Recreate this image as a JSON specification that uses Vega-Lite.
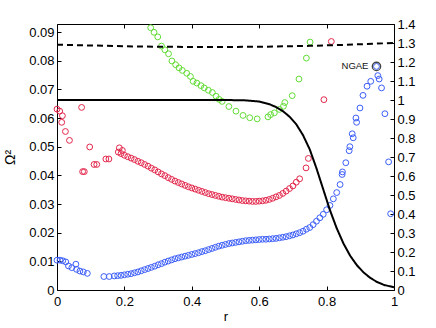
{
  "$schema": "https://vega.github.io/schema/vega-lite/v6.json",
  "autosize": "none",
  "width": 337,
  "height": 266,
  "padding": {"left": 57, "top": 24, "right": 42, "bottom": 38},
  "background": "white",
  "config": {
    "view": {"stroke": "#000", "strokeWidth": 1},
    "axis": {
      "grid": false, "domain": false, "labelOverlap": false, "labelFlush": false, "labelBound": false,
      "labelFont": "Liberation Sans", "labelFontSize": 13, "labelColor": "#000",
      "titleFont": "Liberation Sans", "titleFontSize": 13, "titleColor": "#000", "titleFontWeight": "normal",
      "tickColor": "#000", "tickSize": -4, "tickWidth": 1
    }
  },
  "datasets": {
    "pts": [
      {"s": "red", "r": 0.0, "w": 0.0631}, {"s": "red", "r": 0.008, "w": 0.0624}, {"s": "red", "r": 0.016, "w": 0.0608},
      {"s": "red", "r": 0.014, "w": 0.0585}, {"s": "red", "r": 0.025, "w": 0.0553}, {"s": "red", "r": 0.037, "w": 0.0522},
      {"s": "red", "r": 0.073, "w": 0.0637}, {"s": "red", "r": 0.076, "w": 0.0413}, {"s": "red", "r": 0.081, "w": 0.0413},
      {"s": "red", "r": 0.097, "w": 0.0499}, {"s": "red", "r": 0.110, "w": 0.0438}, {"s": "red", "r": 0.118, "w": 0.0438},
      {"s": "red", "r": 0.145, "w": 0.0457}, {"s": "red", "r": 0.154, "w": 0.0457},
      {"s": "red", "r": 0.182, "w": 0.0481}, {"s": "red", "r": 0.185, "w": 0.0496}, {"s": "red", "r": 0.194, "w": 0.0487},
      {"s": "red", "r": 0.19, "w": 0.0476}, {"s": "red", "r": 0.20, "w": 0.0470}, {"s": "red", "r": 0.21, "w": 0.0465},
      {"s": "red", "r": 0.22, "w": 0.0460}, {"s": "red", "r": 0.23, "w": 0.0455}, {"s": "red", "r": 0.24, "w": 0.0449},
      {"s": "red", "r": 0.25, "w": 0.0444}, {"s": "red", "r": 0.26, "w": 0.0438}, {"s": "red", "r": 0.27, "w": 0.0432},
      {"s": "red", "r": 0.28, "w": 0.0425}, {"s": "red", "r": 0.29, "w": 0.0419}, {"s": "red", "r": 0.30, "w": 0.0412},
      {"s": "red", "r": 0.31, "w": 0.0405}, {"s": "red", "r": 0.32, "w": 0.0399}, {"s": "red", "r": 0.33, "w": 0.0392},
      {"s": "red", "r": 0.34, "w": 0.0386}, {"s": "red", "r": 0.35, "w": 0.0380}, {"s": "red", "r": 0.36, "w": 0.0375},
      {"s": "red", "r": 0.37, "w": 0.0370}, {"s": "red", "r": 0.38, "w": 0.0365}, {"s": "red", "r": 0.39, "w": 0.0360},
      {"s": "red", "r": 0.40, "w": 0.0356}, {"s": "red", "r": 0.41, "w": 0.0352}, {"s": "red", "r": 0.42, "w": 0.0348},
      {"s": "red", "r": 0.43, "w": 0.0344}, {"s": "red", "r": 0.44, "w": 0.0340}, {"s": "red", "r": 0.45, "w": 0.0336},
      {"s": "red", "r": 0.46, "w": 0.0333}, {"s": "red", "r": 0.47, "w": 0.0330}, {"s": "red", "r": 0.48, "w": 0.0327},
      {"s": "red", "r": 0.49, "w": 0.0324}, {"s": "red", "r": 0.50, "w": 0.0322}, {"s": "red", "r": 0.51, "w": 0.0320},
      {"s": "red", "r": 0.52, "w": 0.0318}, {"s": "red", "r": 0.53, "w": 0.0316}, {"s": "red", "r": 0.54, "w": 0.0314},
      {"s": "red", "r": 0.55, "w": 0.0312}, {"s": "red", "r": 0.56, "w": 0.0311}, {"s": "red", "r": 0.57, "w": 0.0310},
      {"s": "red", "r": 0.58, "w": 0.0309}, {"s": "red", "r": 0.59, "w": 0.0309}, {"s": "red", "r": 0.60, "w": 0.0310},
      {"s": "red", "r": 0.61, "w": 0.0311}, {"s": "red", "r": 0.62, "w": 0.0313}, {"s": "red", "r": 0.63, "w": 0.0316},
      {"s": "red", "r": 0.64, "w": 0.0320}, {"s": "red", "r": 0.65, "w": 0.0325}, {"s": "red", "r": 0.66, "w": 0.0330},
      {"s": "red", "r": 0.67, "w": 0.0337}, {"s": "red", "r": 0.68, "w": 0.0345}, {"s": "red", "r": 0.69, "w": 0.0354},
      {"s": "red", "r": 0.70, "w": 0.0363}, {"s": "red", "r": 0.71, "w": 0.0376}, {"s": "red", "r": 0.72, "w": 0.0388},
      {"s": "red", "r": 0.739, "w": 0.0426}, {"s": "red", "r": 0.746, "w": 0.0459},
      {"s": "red", "r": 0.792, "w": 0.0664}, {"s": "red", "r": 0.814, "w": 0.0867},

      {"s": "blue", "r": 0.0, "w": 0.0104}, {"s": "blue", "r": 0.009, "w": 0.0104}, {"s": "blue", "r": 0.017, "w": 0.0102},
      {"s": "blue", "r": 0.026, "w": 0.0098}, {"s": "blue", "r": 0.034, "w": 0.0084}, {"s": "blue", "r": 0.044, "w": 0.0078},
      {"s": "blue", "r": 0.056, "w": 0.0090}, {"s": "blue", "r": 0.058, "w": 0.0072}, {"s": "blue", "r": 0.068, "w": 0.0066},
      {"s": "blue", "r": 0.078, "w": 0.0063}, {"s": "blue", "r": 0.090, "w": 0.0058},
      {"s": "blue", "r": 0.139, "w": 0.0047}, {"s": "blue", "r": 0.155, "w": 0.0047},
      {"s": "blue", "r": 0.17, "w": 0.0049}, {"s": "blue", "r": 0.18, "w": 0.0050}, {"s": "blue", "r": 0.19, "w": 0.0051},
      {"s": "blue", "r": 0.20, "w": 0.0053}, {"s": "blue", "r": 0.21, "w": 0.0055}, {"s": "blue", "r": 0.22, "w": 0.0057},
      {"s": "blue", "r": 0.23, "w": 0.0060}, {"s": "blue", "r": 0.24, "w": 0.0063}, {"s": "blue", "r": 0.25, "w": 0.0067},
      {"s": "blue", "r": 0.26, "w": 0.0071}, {"s": "blue", "r": 0.27, "w": 0.0075}, {"s": "blue", "r": 0.28, "w": 0.0079},
      {"s": "blue", "r": 0.29, "w": 0.0083}, {"s": "blue", "r": 0.30, "w": 0.0088}, {"s": "blue", "r": 0.31, "w": 0.0092},
      {"s": "blue", "r": 0.32, "w": 0.0097}, {"s": "blue", "r": 0.33, "w": 0.0101}, {"s": "blue", "r": 0.34, "w": 0.0105},
      {"s": "blue", "r": 0.35, "w": 0.0109}, {"s": "blue", "r": 0.36, "w": 0.0112}, {"s": "blue", "r": 0.37, "w": 0.0115},
      {"s": "blue", "r": 0.38, "w": 0.0118}, {"s": "blue", "r": 0.39, "w": 0.0121}, {"s": "blue", "r": 0.40, "w": 0.0124},
      {"s": "blue", "r": 0.41, "w": 0.0127}, {"s": "blue", "r": 0.42, "w": 0.0130}, {"s": "blue", "r": 0.43, "w": 0.0134},
      {"s": "blue", "r": 0.44, "w": 0.0137}, {"s": "blue", "r": 0.45, "w": 0.0141}, {"s": "blue", "r": 0.46, "w": 0.0145},
      {"s": "blue", "r": 0.47, "w": 0.0149}, {"s": "blue", "r": 0.48, "w": 0.0153}, {"s": "blue", "r": 0.49, "w": 0.0156},
      {"s": "blue", "r": 0.50, "w": 0.0159}, {"s": "blue", "r": 0.51, "w": 0.0162}, {"s": "blue", "r": 0.52, "w": 0.0164},
      {"s": "blue", "r": 0.53, "w": 0.0166}, {"s": "blue", "r": 0.54, "w": 0.0168}, {"s": "blue", "r": 0.55, "w": 0.0170},
      {"s": "blue", "r": 0.56, "w": 0.0172}, {"s": "blue", "r": 0.57, "w": 0.0173}, {"s": "blue", "r": 0.58, "w": 0.0174},
      {"s": "blue", "r": 0.59, "w": 0.0175}, {"s": "blue", "r": 0.60, "w": 0.0176}, {"s": "blue", "r": 0.61, "w": 0.0177},
      {"s": "blue", "r": 0.62, "w": 0.0177}, {"s": "blue", "r": 0.63, "w": 0.0178}, {"s": "blue", "r": 0.64, "w": 0.0179},
      {"s": "blue", "r": 0.65, "w": 0.0180}, {"s": "blue", "r": 0.66, "w": 0.0182}, {"s": "blue", "r": 0.67, "w": 0.0184},
      {"s": "blue", "r": 0.68, "w": 0.0186}, {"s": "blue", "r": 0.69, "w": 0.0189}, {"s": "blue", "r": 0.70, "w": 0.0192},
      {"s": "blue", "r": 0.71, "w": 0.0196}, {"s": "blue", "r": 0.72, "w": 0.0200}, {"s": "blue", "r": 0.73, "w": 0.0205},
      {"s": "blue", "r": 0.74, "w": 0.0212}, {"s": "blue", "r": 0.75, "w": 0.0218}, {"s": "blue", "r": 0.76, "w": 0.0228},
      {"s": "blue", "r": 0.77, "w": 0.0240}, {"s": "blue", "r": 0.78, "w": 0.0252}, {"s": "blue", "r": 0.79, "w": 0.0264},
      {"s": "blue", "r": 0.80, "w": 0.0280}, {"s": "blue", "r": 0.81, "w": 0.0295}, {"s": "blue", "r": 0.82, "w": 0.0318},
      {"s": "blue", "r": 0.83, "w": 0.0340}, {"s": "blue", "r": 0.84, "w": 0.0368}, {"s": "blue", "r": 0.846, "w": 0.0403},
      {"s": "blue", "r": 0.847, "w": 0.0412}, {"s": "blue", "r": 0.857, "w": 0.0444}, {"s": "blue", "r": 0.867, "w": 0.0486},
      {"s": "blue", "r": 0.869, "w": 0.0500}, {"s": "blue", "r": 0.876, "w": 0.0545}, {"s": "blue", "r": 0.879, "w": 0.0531},
      {"s": "blue", "r": 0.887, "w": 0.0600}, {"s": "blue", "r": 0.889, "w": 0.0585}, {"s": "blue", "r": 0.899, "w": 0.0635},
      {"s": "blue", "r": 0.908, "w": 0.0679}, {"s": "blue", "r": 0.920, "w": 0.0711}, {"s": "blue", "r": 0.931, "w": 0.0728},
      {"s": "blue", "r": 0.948, "w": 0.0780}, {"s": "blue", "r": 0.952, "w": 0.0748}, {"s": "blue", "r": 0.956, "w": 0.0736},
      {"s": "blue", "r": 0.963, "w": 0.0705}, {"s": "blue", "r": 0.973, "w": 0.0615}, {"s": "blue", "r": 0.984, "w": 0.0447},
      {"s": "blue", "r": 0.990, "w": 0.0266},

      {"s": "green", "r": 0.278, "w": 0.0915}, {"s": "green", "r": 0.288, "w": 0.0899}, {"s": "green", "r": 0.299, "w": 0.0883},
      {"s": "green", "r": 0.310, "w": 0.0851}, {"s": "green", "r": 0.320, "w": 0.0838}, {"s": "green", "r": 0.331, "w": 0.0824},
      {"s": "green", "r": 0.341, "w": 0.0799}, {"s": "green", "r": 0.352, "w": 0.0786}, {"s": "green", "r": 0.362, "w": 0.0775},
      {"s": "green", "r": 0.372, "w": 0.0766}, {"s": "green", "r": 0.385, "w": 0.0756}, {"s": "green", "r": 0.396, "w": 0.0745},
      {"s": "green", "r": 0.404, "w": 0.0728}, {"s": "green", "r": 0.415, "w": 0.0722}, {"s": "green", "r": 0.427, "w": 0.0713},
      {"s": "green", "r": 0.437, "w": 0.0705}, {"s": "green", "r": 0.449, "w": 0.0697}, {"s": "green", "r": 0.461, "w": 0.0689},
      {"s": "green", "r": 0.472, "w": 0.0676}, {"s": "green", "r": 0.481, "w": 0.0665}, {"s": "green", "r": 0.490, "w": 0.0658},
      {"s": "green", "r": 0.510, "w": 0.0640}, {"s": "green", "r": 0.531, "w": 0.0624}, {"s": "green", "r": 0.552, "w": 0.0609},
      {"s": "green", "r": 0.572, "w": 0.0601}, {"s": "green", "r": 0.594, "w": 0.0597}, {"s": "green", "r": 0.626, "w": 0.0604},
      {"s": "green", "r": 0.634, "w": 0.0612}, {"s": "green", "r": 0.645, "w": 0.0618}, {"s": "green", "r": 0.660, "w": 0.0630},
      {"s": "green", "r": 0.672, "w": 0.0641}, {"s": "green", "r": 0.676, "w": 0.0654}, {"s": "green", "r": 0.698, "w": 0.0678},
      {"s": "green", "r": 0.718, "w": 0.0736}, {"s": "green", "r": 0.740, "w": 0.0809}, {"s": "green", "r": 0.751, "w": 0.0865}
    ],
    "curves": [
      {"line": "solid", "r": 0.0, "h": 1.0}, {"line": "solid", "r": 0.5, "h": 1.0}, {"line": "solid", "r": 0.56, "h": 0.998},
      {"line": "solid", "r": 0.60, "h": 0.992}, {"line": "solid", "r": 0.63, "h": 0.978}, {"line": "solid", "r": 0.65, "h": 0.963},
      {"line": "solid", "r": 0.67, "h": 0.942}, {"line": "solid", "r": 0.69, "h": 0.912}, {"line": "solid", "r": 0.71, "h": 0.872},
      {"line": "solid", "r": 0.73, "h": 0.815}, {"line": "solid", "r": 0.75, "h": 0.74}, {"line": "solid", "r": 0.77, "h": 0.64},
      {"line": "solid", "r": 0.79, "h": 0.53}, {"line": "solid", "r": 0.81, "h": 0.42}, {"line": "solid", "r": 0.83, "h": 0.325},
      {"line": "solid", "r": 0.85, "h": 0.245}, {"line": "solid", "r": 0.87, "h": 0.18}, {"line": "solid", "r": 0.89, "h": 0.13},
      {"line": "solid", "r": 0.91, "h": 0.092}, {"line": "solid", "r": 0.93, "h": 0.063}, {"line": "solid", "r": 0.95, "h": 0.042},
      {"line": "solid", "r": 0.97, "h": 0.027}, {"line": "solid", "r": 1.0, "h": 0.014},
      {"line": "dashed", "r": 0.0, "h": 1.291}, {"line": "dashed", "r": 0.1, "h": 1.287}, {"line": "dashed", "r": 0.2, "h": 1.283},
      {"line": "dashed", "r": 0.3, "h": 1.280}, {"line": "dashed", "r": 0.45, "h": 1.279}, {"line": "dashed", "r": 0.6, "h": 1.280},
      {"line": "dashed", "r": 0.75, "h": 1.285}, {"line": "dashed", "r": 0.85, "h": 1.290}, {"line": "dashed", "r": 0.95, "h": 1.297},
      {"line": "dashed", "r": 1.0, "h": 1.300}
    ],
    "label": [{"r": 0.948, "w": 0.078, "t": "NGAE"}]
  },
  "layer": [
    {
      "layer": [
        {
          "data": {"name": "pts"},
          "mark": {"type": "point", "shape": "circle", "filled": false, "size": 34, "strokeWidth": 1, "opacity": 1},
          "encoding": {
            "x": {"field": "r", "type": "quantitative", "scale": {"domain": [0, 1], "nice": false},
                  "axis": {"orient": "bottom", "values": [0, 0.2, 0.4, 0.6, 0.8, 1], "format": "~g", "title": "r", "labelPadding": 9, "titlePadding": 2, "labelOverlap": false}},
            "y": {"field": "w", "type": "quantitative", "scale": {"domain": [0, 0.0928], "nice": false, "zero": false},
                  "axis": {"orient": "left", "values": [0, 0.01, 0.02, 0.03, 0.04, 0.05, 0.06, 0.07, 0.08, 0.09], "labelExpr": "datum.value == 0 ? '0' : format(datum.value, '.2f')", "title": "Ω²", "titleFontSize": 14, "labelPadding": 7, "titlePadding": 11, "labelOverlap": false, "tickCount": 10}},
            "color": {"field": "s", "type": "nominal", "legend": null,
                      "scale": {"domain": ["red", "blue", "green"], "range": ["#e3264b", "#3c5ef7", "#63dc36"]}}
          }
        },
        {
          "data": {"name": "label"},
          "mark": {"type": "point", "shape": "circle", "filled": false, "size": 70, "strokeWidth": 1.3, "color": "#444", "opacity": 1},
          "encoding": {
            "x": {"field": "r", "type": "quantitative"},
            "y": {"field": "w", "type": "quantitative"}
          }
        },
        {
          "data": {"name": "label"},
          "mark": {"type": "text", "align": "right", "baseline": "middle", "dx": -8, "font": "Liberation Sans", "fontSize": 9.5, "color": "#111"},
          "encoding": {
            "x": {"field": "r", "type": "quantitative"},
            "y": {"field": "w", "type": "quantitative"},
            "text": {"field": "t"}
          }
        }
      ]
    },
    {
      "data": {"name": "curves"},
      "mark": {"type": "line", "color": "#000", "strokeWidth": 2},
      "encoding": {
        "x": {"field": "r", "type": "quantitative", "scale": {"domain": [0, 1], "nice": false},
              "axis": {"orient": "top", "values": [0, 0.2, 0.4, 0.6, 0.8, 1], "labels": false, "title": null}},
        "y": {"field": "h", "type": "quantitative", "scale": {"domain": [0, 1.4], "nice": false},
              "axis": {"orient": "right", "values": [0, 0.1, 0.2, 0.3, 0.4, 0.5, 0.6, 0.7, 0.8, 0.9, 1, 1.1, 1.2, 1.3, 1.4], "format": "~g", "title": null, "labelPadding": 7, "labelOverlap": false}},
        "strokeDash": {"field": "line", "type": "nominal", "legend": null,
                       "scale": {"domain": ["solid", "dashed"], "range": [[1, 0], [6, 4]]}}
      }
    }
  ],
  "resolve": {"scale": {"y": "independent"}, "axis": {"x": "independent"}}
}
